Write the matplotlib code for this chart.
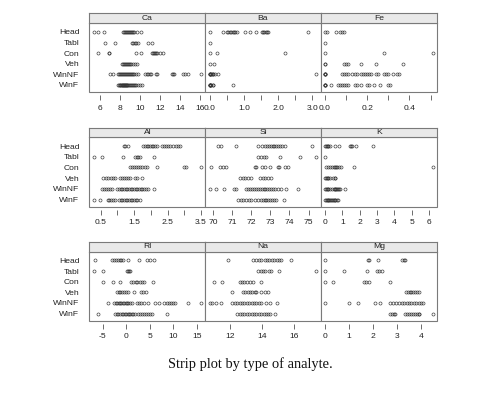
import matplotlib
matplotlib.use('Agg')
import matplotlib.pyplot as plt
from matplotlib.ticker import FixedLocator, FixedFormatter, NullFormatter
from matplotlib.patches import Rectangle

# Glass types (bottom to top in each panel)
types = ['WinF', 'WinNF', 'Veh', 'Con', 'Tabl', 'Head']
analytes = ['Ca', 'Ba', 'Fe', 'Al', 'Si', 'K', 'RI', 'Na', 'Mg']

# Values per analyte, one list per glass type in the order of `types`
ca = [
    [7.8, 7.9, 8.0, 8.05, 8.1, 8.2, 8.25, 8.3, 8.35, 8.4, 8.45, 8.5, 8.55, 8.6, 8.65, 8.7, 8.75, 8.8,
     8.9, 9.0, 9.1, 9.2, 9.3, 9.4, 9.5, 9.6, 9.8, 10.0, 10.2],
    [7.0, 7.35, 7.8, 7.9, 8.0, 8.1, 8.2, 8.3, 8.4, 8.5, 8.6, 8.7, 8.8, 8.9, 9.0, 9.1, 9.2, 9.3, 9.45,
     9.6, 9.8, 10.5, 10.7, 10.8, 11.0, 11.1, 11.6, 11.7, 13.2, 13.3, 13.4, 14.3, 14.55, 14.8, 16.1],
    [8.2, 8.3, 8.4, 8.5, 8.6, 8.7, 8.8, 8.9, 9.0, 9.1, 9.3, 9.5, 9.7],
    [5.8, 6.9, 6.95, 9.65, 10.1, 11.2, 11.3, 11.4, 11.5, 11.6, 11.7, 12.0, 12.3],
    [6.55, 7.5, 9.2, 9.35, 9.5, 9.6, 9.8, 10.8, 11.2],
    [5.4, 5.8, 6.45, 8.3, 8.4, 8.5, 8.6, 8.7, 8.8, 8.9, 9.0, 9.1, 9.2, 9.3, 9.4, 9.7, 10.1],
]
ba = [
    [0, 0, 0, 0, 0, 0.05, 0.09, 0.11, 0.69],
    [0, 0, 0, 0, 0.03, 0.06, 0.09, 0.11, 0.15, 0.26, 3.12],
    [0, 0.13],
    [0, 0.22, 2.2],
    [0],
    [0, 0.39, 0.5, 0.55, 0.6, 0.64, 0.67, 0.7, 0.73, 0.81, 1.04, 1.18, 1.35, 1.53, 1.57, 1.6, 1.64,
     1.68, 1.72, 2.87],
]
fe = [
    [0, 0, 0, 0, 0.03, 0.06, 0.07, 0.08, 0.09, 0.1, 0.11, 0.14, 0.15, 0.17, 0.2, 0.21, 0.23, 0.26,
     0.3, 0.31],
    [0, 0, 0, 0, 0.08, 0.09, 0.1, 0.11, 0.13, 0.14, 0.15, 0.17, 0.18, 0.19, 0.2, 0.21, 0.22, 0.24,
     0.25, 0.28, 0.29, 0.3, 0.32, 0.34, 0.35],
    [0, 0, 0.09, 0.1, 0.11, 0.17, 0.24, 0.37],
    [0, 0.28, 0.51],
    [0],
    [0, 0.01, 0.05, 0.07, 0.08, 0.09],
]
al = [
    [0.29, 0.47, 0.71, 0.76, 0.82, 0.88, 0.93, 1.05, 1.1, 1.15, 1.2, 1.25, 1.3, 1.35, 1.4, 1.45,
     1.5, 1.55, 1.6, 1.68],
    [0.55, 0.6, 0.66, 0.72, 0.78, 0.83, 1.0, 1.05, 1.1, 1.15, 1.2, 1.25, 1.3, 1.35, 1.4, 1.45, 1.5,
     1.55, 1.6, 1.65, 1.7, 1.75, 1.8, 1.87, 1.93, 2.1],
    [0.58, 0.65, 0.72, 0.8, 0.87, 0.93, 1.08, 1.15, 1.2, 1.25, 1.32, 1.38, 1.53, 1.6, 1.73],
    [1.38, 1.45, 1.5, 1.56, 1.62, 1.68, 1.75, 1.82, 1.88, 2.17, 3.0, 3.04, 3.5],
    [0.31, 0.53, 1.18, 1.53, 1.58, 1.63, 1.68, 2.1],
    [1.19, 1.23, 1.32, 1.78, 1.83, 1.88, 1.93, 1.98, 2.03, 2.08, 2.12, 2.17, 2.32, 2.38, 2.45, 2.5,
     2.57, 2.67, 2.74, 2.8, 2.87],
]
si = [
    [71.3, 71.45, 71.6, 71.75, 71.9, 72.0, 72.2, 72.35, 72.5, 72.6, 72.7, 72.8, 72.9, 73.0, 73.1,
     73.2, 73.3, 73.72],
    [69.83, 70.17, 70.6, 71.13, 71.2, 71.75, 71.85, 71.95, 72.05, 72.15, 72.25, 72.35, 72.45, 72.55,
     72.65, 72.75, 72.85, 72.95, 73.05, 73.15, 73.25, 73.4, 73.58, 73.84, 74.45],
    [71.4, 71.55, 71.7, 71.85, 72.0, 72.45, 72.6, 72.75, 72.9, 73.05],
    [69.89, 70.35, 70.55, 70.7, 72.18, 72.25, 72.55, 72.75, 72.97, 73.4, 73.48, 73.75, 73.9],
    [72.36, 72.5, 72.65, 72.8, 73.5, 74.54, 75.41],
    [70.26, 70.44, 71.22, 72.37, 72.55, 72.72, 72.82, 72.92, 73.02, 73.12, 73.22, 73.32, 73.42,
     73.52, 73.62, 73.77, 75.17],
]
k = [
    [0, 0.05, 0.1, 0.15, 0.2, 0.25, 0.3, 0.35, 0.4, 0.45, 0.5, 0.55, 0.6, 0.68, 0.75],
    [0, 0.05, 0.1, 0.15, 0.2, 0.3, 0.4, 0.5, 0.55, 0.6, 0.65, 0.7, 0.75, 0.8, 0.87, 1.15],
    [0, 0.05, 0.1, 0.15, 0.2, 0.29, 0.48, 0.55, 0.6],
    [0.08, 0.2, 0.3, 0.4, 0.5, 0.56, 0.62, 0.7, 0.8, 0.95, 1.7, 6.21],
    [0],
    [0, 0.05, 0.1, 0.15, 0.2, 0.31, 0.6, 0.8, 1.42, 1.5, 1.57, 1.8, 2.75],
]
ri = [
    [-5.9, -2.3, -2.0, -1.7, -1.3, -0.9, -0.6, -0.3, 0.0, 0.3, 0.6, 0.9, 1.2, 1.5, 1.9, 2.6, 3.0,
     3.4, 3.8, 4.2, 4.6, 5.0, 5.4, 8.6],
    [-3.9, -2.5, -2.2, -1.9, -1.6, -1.3, -1.0, -0.7, -0.4, -0.1, 0.2, 0.5, 0.8, 1.2, 2.3, 2.7, 3.2,
     3.8, 4.6, 6.1, 6.9, 8.1, 8.6, 9.1, 9.6, 10.0, 10.4, 13.2, 15.9],
    [-2.0, -1.6, -1.2, -0.8, -0.4, 0.0, 0.5, 1.7, 3.2, 3.6, 4.2],
    [-4.8, -2.8, -1.4, 1.06, 1.5, 2.0, 2.4, 2.9, 3.4, 3.9, 5.8],
    [-6.9, -5.0, 0.14, 0.4, 0.6, 0.85],
    [-6.7, -3.0, -2.6, -2.2, -1.8, -1.4, -1.0, -0.57, 0.45, 2.65, 4.45, 5.0, 5.85],
]
na = [
    [12.44, 12.6, 12.75, 12.9, 13.05, 13.2, 13.35, 13.5, 13.65, 13.8, 13.95, 14.1, 14.25, 14.35,
     14.47, 14.83],
    [10.73, 10.9, 11.1, 11.46, 12.12, 12.3, 12.45, 12.6, 12.75, 12.9, 13.05, 13.2, 13.35, 13.5,
     13.65, 13.8, 13.95, 14.27, 14.47, 14.9],
    [12.12, 12.8, 12.95, 13.1, 13.25, 13.4, 13.55, 13.64, 13.95, 14.15, 14.37],
    [11.0, 11.5, 12.6, 12.75, 12.9, 13.05, 13.23, 13.43, 13.9],
    [13.75, 13.9, 14.05, 14.2, 14.4, 14.58, 15.04, 17.38],
    [11.9, 13.43, 13.6, 13.8, 13.95, 14.16, 14.3, 14.45, 14.6, 14.75, 14.9, 15.05, 15.2, 15.8],
]
mg = [
    [2.73, 2.8, 2.87, 2.92, 3.34, 3.42, 3.5, 3.58, 3.66, 3.74, 3.82, 3.9, 3.93, 4.49],
    [0, 1.02, 1.37, 2.1, 2.31, 2.73, 2.85, 2.97, 3.1, 3.2, 3.3, 3.4, 3.5, 3.6, 3.7, 3.8, 3.9, 4.0,
     4.07],
    [3.37, 3.45, 3.53, 3.6, 3.67, 3.75, 3.83, 3.93],
    [0, 0.35, 1.61, 1.7, 1.82, 2.7],
    [0, 0.79, 1.75, 2.17, 2.25, 2.38],
    [0, 1.8, 1.85, 2.2, 3.22, 3.28, 3.34],
]

# Axis tick values and labels per panel
major_ticks = [[6, 8, 10, 12, 14, 16], [0, 1, 2, 3], [0.0, 0.2, 0.4],
               [0.5, 1.5, 2.5, 3.5], [70, 71, 72, 73, 74, 75], [0, 1, 2, 3, 4, 5, 6],
               [-5, 0, 5, 10, 15], [12, 14, 16], [0, 1, 2, 3, 4]]
major_labels = [['6', '8', '10', '12', '14', '16'], ['0.0', '1.0', '2.0', '3.0'],
                ['0.0', '0.2', '0.4'], ['0.5', '1.5', '2.5', '3.5'],
                ['70', '71', '72', '73', '74', '75'], ['0', '1', '2', '3', '4', '5', '6'],
                ['-5', '0', '5', '10', '15'], ['12', '14', '16'], ['0', '1', '2', '3', '4']]
minor_ticks = [[], [0.5, 1.5, 2.5], [0.1, 0.3, 0.5], [1.0, 2.0, 3.0], [], [], [], [], []]

data = [ca, ba, fe, al, si, k, ri, na, mg]

W, H = 494, 400
fig = plt.figure(figsize=(W / 100, H / 100), dpi=100)
fig.patch.set_facecolor('white')

xs = [89.3, 205.3, 320.7, 437.0]
rows = [(13.3, 23.3, 92.3), (127.7, 137.3, 207.0), (241.7, 251.7, 321.0)]
font = ['Liberation Sans', 'DejaVu Sans']
fs = 6.1
border = '#7a7a7a'

for idx, name in enumerate(analytes):
    r, c = divmod(idx, 3)
    x0, x1 = xs[c], xs[c + 1]
    yt, ys, yb = rows[r]
    ax = fig.add_axes([x0 / W, 1 - yb / H, (x1 - x0) / W, (yb - ys) / H])
    sax = fig.add_axes([x0 / W, 1 - ys / H, (x1 - x0) / W, (ys - yt) / H])

    vals = data[idx]
    allv = [v for grp in vals for v in grp]
    lo, hi = min(allv), max(allv)
    pad = 0.04 * (hi - lo)
    for i, grp in enumerate(vals):
        ax.plot(grp, [i + 1] * len(grp), 'o', mfc='none', mec='#333333', ms=2.2, mew=0.45,
                clip_on=False)
    ax.set_xlim(lo - pad, hi + pad)
    ax.set_ylim(0.3, 6.82)

    for s in ['left', 'right', 'top']:
        ax.spines[s].set_visible(False)
    ax.spines['bottom'].set_position(('outward', 2.0))
    ax.spines['bottom'].set_visible(False)
    ax.add_patch(Rectangle((0, 0), 1, 1, transform=ax.transAxes, fill=False, ec=border, lw=0.8,
                           clip_on=False, zorder=5))

    ax.xaxis.set_major_locator(FixedLocator(major_ticks[idx]))
    ax.xaxis.set_major_formatter(FixedFormatter(major_labels[idx]))
    ax.xaxis.set_minor_locator(FixedLocator(minor_ticks[idx]))
    ax.xaxis.set_minor_formatter(NullFormatter())
    ax.tick_params(axis='x', which='both', direction='out', length=3.4, width=0.6, color='#555555',
                   pad=3.4, labelsize=fs, labelcolor='#222222')
    for lab in ax.get_xticklabels():
        lab.set_family(font)

    ax.set_yticks(range(1, 7))
    if c == 0:
        ax.set_yticklabels(types, fontsize=fs, family=font, color='#222222')
        ax.tick_params(axis='y', length=0, pad=7.2)
    else:
        ax.set_yticklabels([])
        ax.tick_params(axis='y', length=0)

    sax.set_xticks([])
    sax.set_yticks([])
    sax.set_facecolor('#e9e9e9')
    for s in sax.spines.values():
        s.set_color(border)
        s.set_linewidth(0.8)
    sax.text(0.5, 0.48, name, ha='center', va='center', fontsize=fs, family=font,
             color='#222222', transform=sax.transAxes)

fig.text(250 / W, 1 - 364 / H, 'Strip plot by type of analyte.', ha='center', va='center',
         fontsize=10.4, family=['Liberation Serif', 'DejaVu Serif'], color='#111111')

fig.savefig('out.png', dpi=100, facecolor='white')
